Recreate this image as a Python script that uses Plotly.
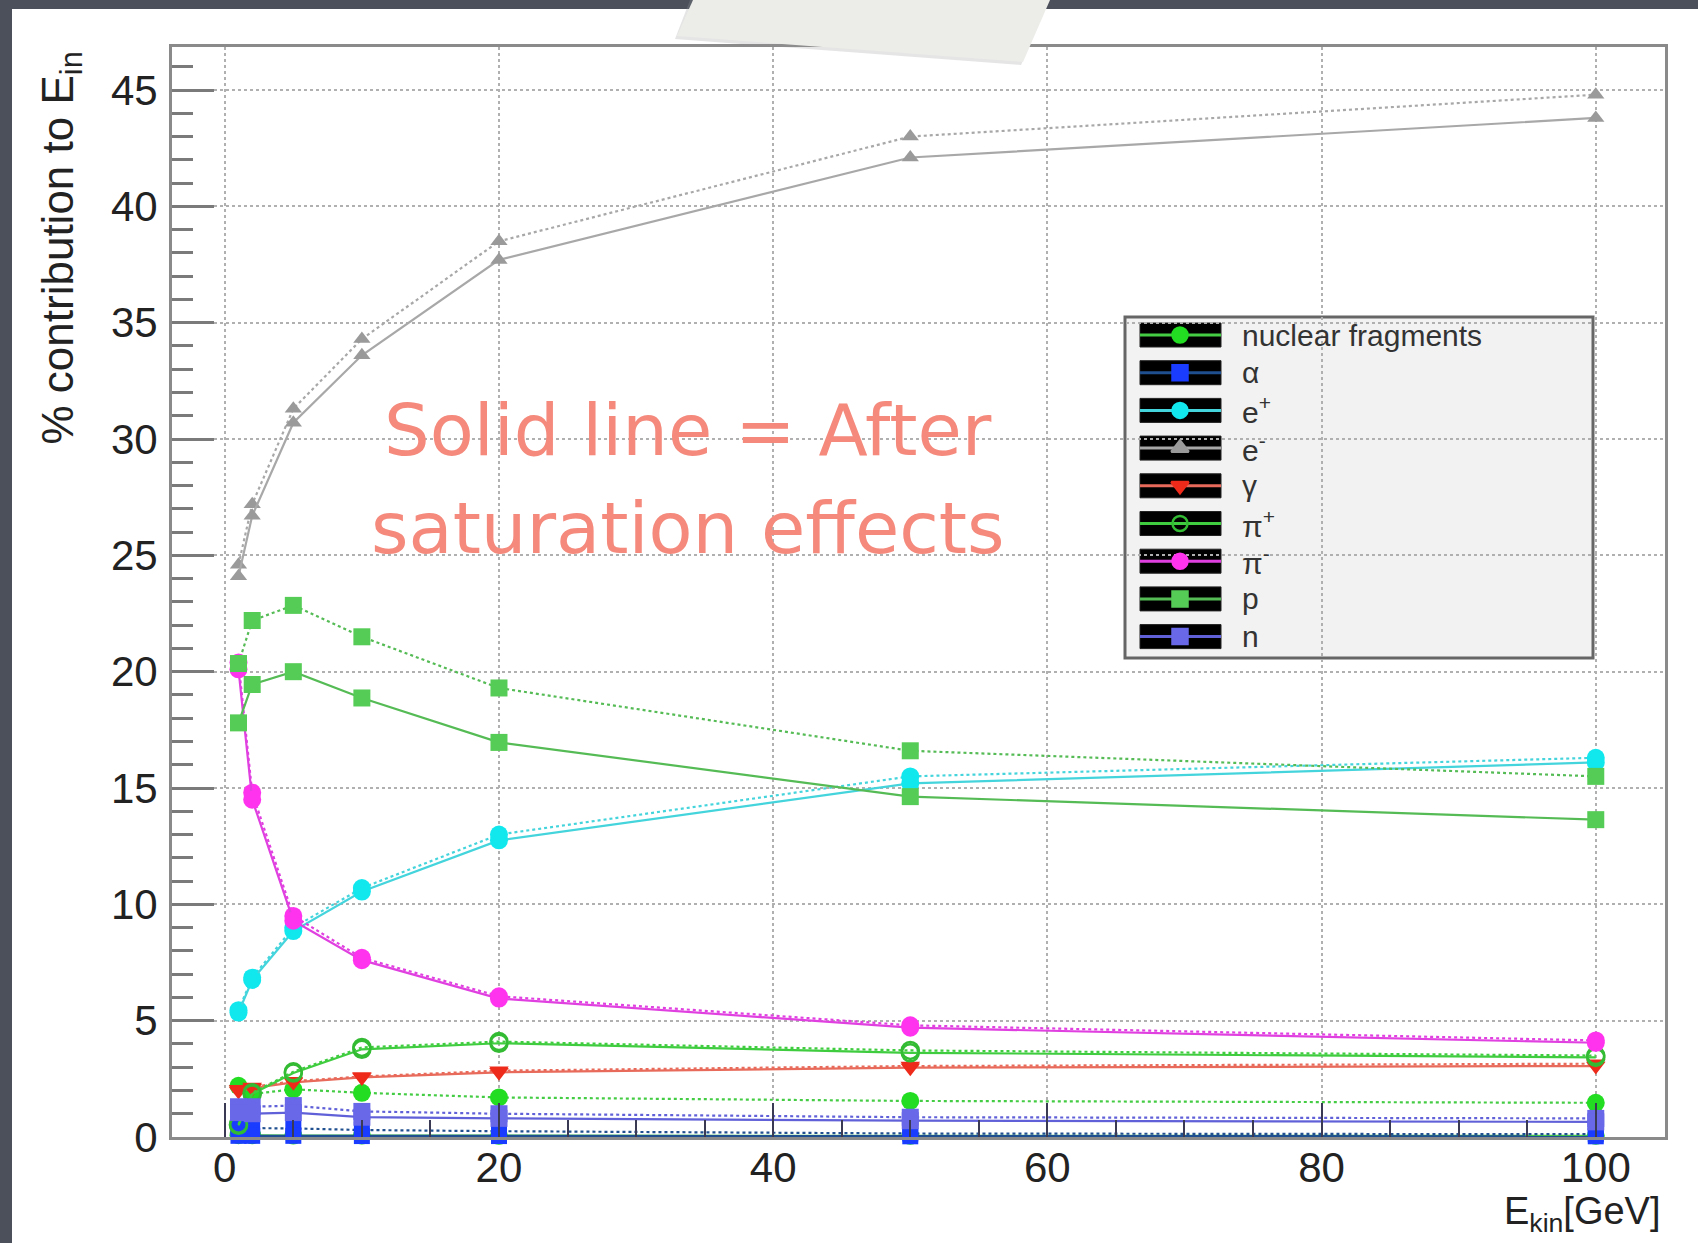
import plotly.graph_objects as go

# Beam kinetic energies (GeV)
energy = [1, 2, 5, 10, 20, 50, 100]

# Percentage contribution to deposited energy, per particle species.
# "_before" = dotted curves, "_after" = solid curves (after saturation effects)
nucfrag_before = [2.2, 1.85, 2.05, 1.9, 1.7, 1.55, 1.47]
nucfrag_after = [0.08, 0.07, 0.06, 0.06, 0.05, 0.05, 0.05]
alpha_before = [0.4, 0.38, 0.37, 0.3, 0.25, 0.15, 0.12]
alpha_after = [0.05, 0.05, 0.05, 0.04, 0.04, 0.03, 0.03]
eplus_before = [5.45, 6.85, 9.0, 10.7, 13.0, 15.5, 16.3]
eplus_after = [5.35, 6.75, 8.85, 10.55, 12.75, 15.2, 16.1]
eminus_before = [24.6, 27.2, 31.3, 34.3, 38.5, 43.0, 44.8]
eminus_after = [24.1, 26.7, 30.7, 33.6, 37.7, 42.1, 43.8]
gamma_before = [2.05, 2.15, 2.4, 2.6, 2.85, 3.05, 3.15]
gamma_after = [1.98, 2.1, 2.35, 2.56, 2.78, 2.98, 3.05]
piplus_before = [0.55, 1.9, 2.8, 3.85, 4.1, 3.72, 3.5]
piplus_after = [0.5, 1.85, 2.75, 3.77, 4.03, 3.62, 3.42]
piminus_before = [20.4, 14.8, 9.5, 7.7, 6.05, 4.8, 4.15]
piminus_after = [20.1, 14.5, 9.3, 7.6, 5.95, 4.7, 4.05]
proton_before = [20.35, 22.2, 22.85, 21.5, 19.3, 16.6, 15.5]
proton_after = [17.8, 19.45, 20.0, 18.87, 16.96, 14.63, 13.64]
neutron_before = [1.3, 1.3, 1.35, 1.1, 1.0, 0.85, 0.8]
neutron_after = [1.05, 1.0, 1.05, 0.85, 0.8, 0.7, 0.65]

species_labels = ["nuclear fragments", "α", "e<sup>+</sup>", "e<sup>-</sup>", "γ",
                  "π<sup>+</sup>", "π<sup>-</sup>", "p", "n"]
x_ticks = [0, 20, 40, 60, 80, 100]
y_ticks = [0, 5, 10, 15, 20, 25, 30, 35, 40, 45]

# name, before, after, line colour, marker colour, marker symbol, marker size
species = [
    ("nuclear fragments", nucfrag_before, nucfrag_after, "#44cc44", "#22dd22", "circle", 18),
    ("α", alpha_before, alpha_after, "#1f4f8f", "#1a3cff", "square", 16),
    ("e+", eplus_before, eplus_after, "#44d4dc", "#11e8ee", "circle", 18),
    ("e-", eminus_before, eminus_after, "#a8a8a8", "#9a9a9a", "triangle-up", 15),
    ("γ", gamma_before, gamma_after, "#e86a5a", "#ee2a1a", "triangle-down", 17),
    ("π+", piplus_before, piplus_after, "#3fcc3f", "#33bb33", "circle-open", 17),
    ("π-", piminus_before, piminus_after, "#e040e0", "#ff33ee", "circle", 18),
    ("p", proton_before, proton_after, "#55bb55", "#55cc55", "square", 17),
    ("n", neutron_before, neutron_after, "#6060d8", "#6868e8", "square", 17),
]

W, H = 1698, 1243
L, R, T, B = 172, 1665, 47, 1137
PW, PH = R - L, B - T


def px(x):
    return (x - L) / PW


def py(y):
    return (B - y) / PH


fig = go.Figure()

for name, before, after, lcol, mcol, sym, msz in species:
    for vals, dash in ((before, "dot"), (after, "solid")):
        mk = dict(symbol=sym, size=msz, color=mcol)
        if sym.endswith("open"):
            mk["line"] = dict(color=mcol, width=2.5)
        fig.add_trace(go.Scatter(
            x=energy, y=vals, mode="lines+markers", name=name,
            line=dict(color=lcol, width=2.2, dash=dash),
            marker=mk, showlegend=False, cliponaxis=False,
        ))

# Legend: drawn by hand in pixel space on an overlay axis pair
row0, drow = 335, 37.7
box_x0, box_x1 = 1140, 1221
shapes = []
shapes.append(dict(type="rect", xref="paper", yref="paper",
                   x0=px(12), x1=px(W + 5), y0=py(H + 5), y1=py(9),
                   fillcolor="white", line=dict(width=0), layer="below"))
shapes.append(dict(type="rect", xref="paper", yref="paper",
                   x0=px(1125), x1=px(1593), y0=py(658), y1=py(317),
                   fillcolor="#f2f2f2", line=dict(color="#666666", width=3),
                   layer="between"))
leg_x, leg_y, leg_c, leg_s = [], [], [], []
annotations = []
for i, (name, before, after, lcol, mcol, sym, msz) in enumerate(species):
    cy = row0 + i * drow
    shapes.append(dict(type="rect", xref="paper", yref="paper",
                       x0=px(box_x0), x1=px(box_x1), y0=py(cy + 12), y1=py(cy - 12),
                       fillcolor="black", line=dict(color="#222222", width=1),
                       layer="between"))
    shapes.append(dict(type="line", xref="paper", yref="paper",
                       x0=px(box_x0), x1=px(box_x1), y0=py(cy), y1=py(cy),
                       line=dict(color=lcol, width=3), layer="between"))
    leg_x.append(1180)
    leg_y.append(cy)
    leg_c.append(mcol)
    leg_s.append(sym)
    annotations.append(dict(text=species_labels[i], xref="paper", yref="paper",
                            x=px(1240), y=py(cy), xanchor="left", yanchor="middle",
                            showarrow=False,
                            font=dict(family="Liberation Sans", size=30, color="#333333")))

fig.add_trace(go.Scatter(
    x=leg_x, y=leg_y, mode="markers", xaxis="x2", yaxis="y2", showlegend=False,
    marker=dict(symbol=leg_s, size=15, color=leg_c,
                line=dict(color=leg_c, width=2.5)),
    hoverinfo="skip",
))

# Scrap of paper taped over the top of the slide, with a soft shadow
shapes.append(dict(type="path", xref="paper", yref="paper",
                   path=f"M {px(690)} {py(0)} L {px(675)} {py(39)} L {px(1021)} {py(65)} L {px(1049)} {py(0)} Z",
                   fillcolor="rgba(150,150,150,0.25)", line=dict(width=0)))
shapes.append(dict(type="path", xref="paper", yref="paper",
                   path=f"M {px(693)} {py(0)} L {px(677)} {py(36)} L {px(1023)} {py(62)} L {px(1050)} {py(0)} Z",
                   fillcolor="#ecece9", line=dict(width=0)))

annotations.append(dict(text="% contribution to E<sub>in</sub>", xref="paper", yref="paper",
                        x=px(60), y=py(50), xanchor="center", yanchor="top",
                        textangle=-90, showarrow=False,
                        font=dict(family="Liberation Sans", size=44, color="#222222")))
annotations.append(dict(text="E<sub>kin</sub>[GeV]", xref="paper", yref="paper",
                        x=px(1663), y=py(1240), xanchor="right", yanchor="bottom",
                        showarrow=False,
                        font=dict(family="Liberation Sans", size=38, color="#222222")))
note_font = dict(family="DejaVu Sans", size=72, color="#f4897c")
annotations.append(dict(text="Solid line = After", xref="paper", yref="paper",
                        x=px(688), y=py(430), xanchor="center", yanchor="middle",
                        showarrow=False, font=note_font))
annotations.append(dict(text="saturation effects", xref="paper", yref="paper",
                        x=px(688), y=py(528), xanchor="center", yanchor="middle",
                        showarrow=False, font=note_font))

tickfont = dict(family="Liberation Sans", size=42, color="#222222")
fig.update_layout(
    width=W, height=H,
    margin=dict(l=L, r=W - R, t=T, b=H - B),
    paper_bgcolor="#4b505b",
    plot_bgcolor="white",
    shapes=shapes,
    annotations=annotations,
    xaxis=dict(
        range=[-3.85, 105.05], tickvals=x_ticks, ticks="inside", ticklen=34,
        tickwidth=2, tickcolor="#3a3a55", tickfont=tickfont,
        ticklabelstandoff=-8,
        showgrid=True, gridcolor="#b0b0b0", griddash="dot", gridwidth=1.5,
        showline=True, linecolor="#8a8a8a", linewidth=3, mirror=True,
        zeroline=False,
        minor=dict(dtick=5, tick0=0, ticks="inside", ticklen=17, tickwidth=2,
                   tickcolor="#3a3a55", showgrid=False),
    ),
    yaxis=dict(
        range=[0, 46.85], tickvals=y_ticks, ticks="inside", ticklen=42,
        tickwidth=3, tickcolor="#7a7a7a", tickfont=tickfont,
        ticklabelstandoff=3,
        showgrid=True, gridcolor="#b0b0b0", griddash="dot", gridwidth=1.5,
        showline=True, linecolor="#8a8a8a", linewidth=3, mirror=True,
        zeroline=False,
        minor=dict(dtick=1, tick0=0, ticks="inside", ticklen=21, tickwidth=2.5,
                   tickcolor="#7a7a7a", showgrid=False),
    ),
    xaxis2=dict(range=[L, R], overlaying="x", visible=False),
    yaxis2=dict(range=[B, T], overlaying="y", visible=False),
)

fig.write_html("out.html")
